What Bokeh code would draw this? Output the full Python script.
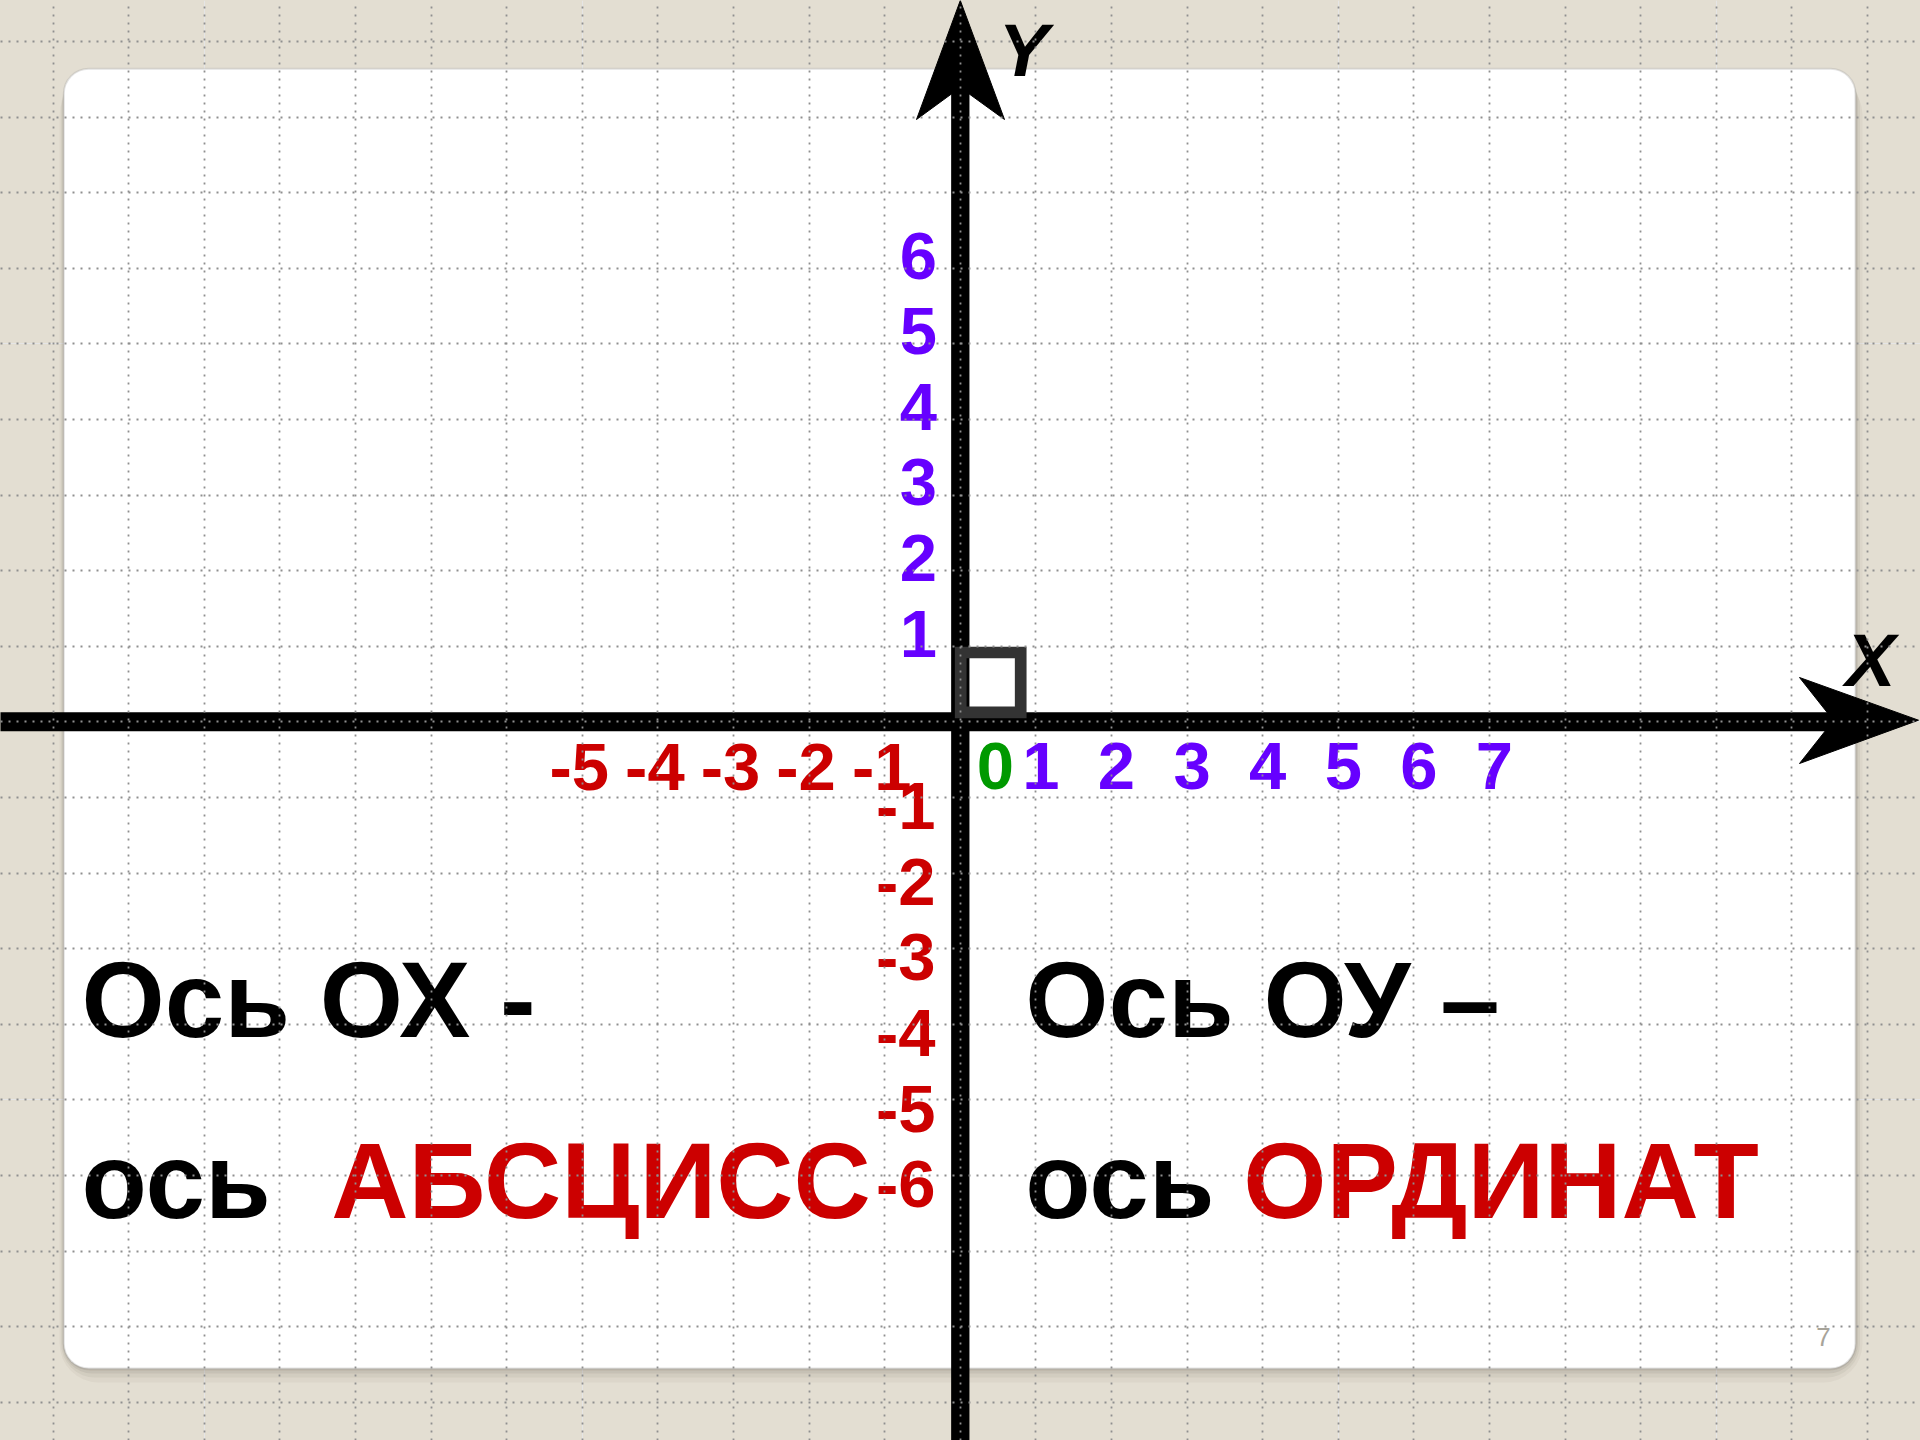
from bokeh.plotting import figure
from bokeh.models import Range1d, Grid, FixedTicker, BoxAnnotation, GlobalInlineStyleSheet
from bokeh.core.properties import value
from bokeh.embed import file_html
from bokeh.resources import INLINE

# ---- data ----
x_neg_values = [-5, -4, -3, -2, -1]
x_neg_labels = ["-5", "-4", "-3", "-2", "-1"]
x_pos_values = [1, 2, 3, 4, 5, 6, 7]
x_pos_labels = ["1", "2", "3", "4", "5", "6", "7"]
y_pos_values = [1, 2, 3, 4, 5, 6]
y_pos_labels = ["1", "2", "3", "4", "5", "6"]
y_neg_values = [-1, -2, -3, -4, -5, -6]
y_neg_labels = ["-1", "-2", "-3", "-4", "-5", "-6"]
zero_label = ["0"]
grid_x = list(range(-13, 14))
grid_y = list(range(-10, 11))

# ---- geometry helpers (page pixel -> grid units) ----
UNIT = 75.6
OX, OY = 959.8, 721.3
def ux(px):
    return (px - OX) / UNIT
def uy(py):
    return (OY - py) / UNIT
BASE_SHIFT = 0.36  # baseline correction, in em
def ub(py, size):
    return uy(py - BASE_SHIFT * size)

BG = "#e3ded2"
RED = "#cc0000"
PURPLE = "#6600ff"
GREEN = "#009900"
FONT = value("Liberation Sans")

p = figure(width=1920, height=1440,
           x_range=Range1d(ux(0), ux(1920)), y_range=Range1d(uy(1440), uy(0)),
           output_backend="svg", toolbar_location=None,
           x_axis_location=None, y_axis_location=None, min_border=0)
p.background_fill_color = BG
p.border_fill_color = BG
p.outline_line_color = None
p.stylesheets = [GlobalInlineStyleSheet(css="html, body { background-color: #e3ded2; overflow: hidden; }")]

# ---- slide card with shadow ----
for d, a in [(2, 0.11), (5, 0.09), (9, 0.07), (14, 0.05)]:
    p.add_layout(BoxAnnotation(left=ux(63.3 - d * 0.3), right=ux(1855 + d * 0.5),
                               top=uy(68.3 + d * 0.5), bottom=uy(1368 + d),
                               fill_color="#5a5240", fill_alpha=a, line_color=None,
                               border_radius=25 + d, level="underlay"))
p.add_layout(BoxAnnotation(left=ux(63.3), right=ux(1855), top=uy(68.3), bottom=uy(1368),
                           fill_color="white", fill_alpha=1.0, line_color="#a3a3a3",
                           line_width=2, border_radius=25, level="underlay"))

# ---- dotted grid on top ----
for dim, ticks in [(0, grid_x), (1, grid_y)]:
    g = Grid(dimension=dim, ticker=FixedTicker(ticks=ticks), level="overlay")
    g.grid_line_color = "#8f8f8f"
    g.grid_line_width = 1.8
    g.grid_line_dash = "2 6"
    p.add_layout(g)

# ---- axes with arrows ----
p.segment(x0=[ux(-10)], y0=[0], x1=[ux(1835)], y1=[0], line_color="black", line_width=19, line_cap="butt")
p.segment(x0=[0], y0=[uy(1450)], x1=[0], y1=[uy(85)], line_color="black", line_width=18.3, line_cap="butt")
p.patch(x=[ux(1918), ux(1799), ux(1833), ux(1799)], y=[uy(719.7), uy(677), uy(720), uy(763)],
        fill_color="black", line_color="black", line_width=1)
p.patch(x=[0, ux(916), 0, ux(1004)], y=[uy(0), uy(119), uy(87), uy(119)],
        fill_color="black", line_color="black", line_width=1)

# unit square at origin
p.rect(x=[ux(990.2)], y=[uy(681.9)], width=60 / UNIT, height=59.8 / UNIT,
       fill_color=None, line_color="#333333", line_width=11.7, line_join="miter")

# ---- tick labels ----
TS = 67
LBL = dict(text_font=FONT, text_font_style="bold", text_font_size=value(f"{TS}px"),
           text_baseline="alphabetic")
p.text(x=x_neg_values, y=[ub(791, TS)] * len(x_neg_values), text=x_neg_labels,
       text_color=RED, text_align="center", x_offset=-3, **LBL)
p.text(x=x_pos_values, y=[ub(790, TS)] * len(x_pos_values), text=x_pos_labels,
       text_color=PURPLE, text_align="center", x_offset=5, **LBL)
p.text(x=[0], y=[ub(790, TS)], text=zero_label, text_color=GREEN, text_align="center",
       x_offset=35, **LBL)
p.text(x=[ux(936.5)] * len(y_pos_values),
       y=[v - 11.5 / UNIT + BASE_SHIFT * TS / UNIT for v in y_pos_values],
       text=y_pos_labels, text_color=PURPLE, text_align="right", **LBL)
p.text(x=[ux(935)] * len(y_neg_values),
       y=[v - 33 / UNIT + BASE_SHIFT * TS / UNIT for v in y_neg_values],
       text=y_neg_labels, text_color=RED, text_align="right", **LBL)

# axis names
AS = 75
AX = dict(text_font=FONT, text_font_style="bold italic", text_font_size=value(f"{AS}px"),
          text_baseline="alphabetic", text_align="center", text_color="black")
p.text(x=[ux(1023)], y=[ub(76, AS)], text=["Y"], **AX)
p.text(x=[ux(1870)], y=[ub(686, AS)], text=["X"], **AX)

# ---- captions ----
CS = 107
CAP = dict(text_font=FONT, text_font_style="bold", text_font_size=value(f"{CS}px"),
           text_baseline="alphabetic", text_align="left")
p.text(x=[ux(81)], y=[ub(1038.5, CS)], text=["Ось ОХ -"], text_color="black", **CAP)
p.text(x=[ux(81)], y=[ub(1219, CS)], text=["ось"], text_color="black", **CAP)
p.text(x=[ux(330.7)], y=[ub(1219, CS)], text=["АБСЦИСС"], text_color=RED, **CAP)
p.text(x=[ux(1024.7)], y=[ub(1038.5, CS)], text=["Ось ОУ –"], text_color="black", **CAP)
p.text(x=[ux(1024.7)], y=[ub(1219, CS)], text=["ось"], text_color="black", **CAP)
p.text(x=[ux(1242.8)], y=[ub(1219, CS)], text=["ОРДИНАТ"], text_color=RED, **CAP)

# page number
p.text(x=[ux(1823)], y=[ub(1346, 26)], text=["7"], text_font=FONT, text_font_size=value("26px"),
       text_color="#a8a49a", text_align="center", text_baseline="alphabetic")

open("out.html", "w").write(file_html(p, INLINE))
